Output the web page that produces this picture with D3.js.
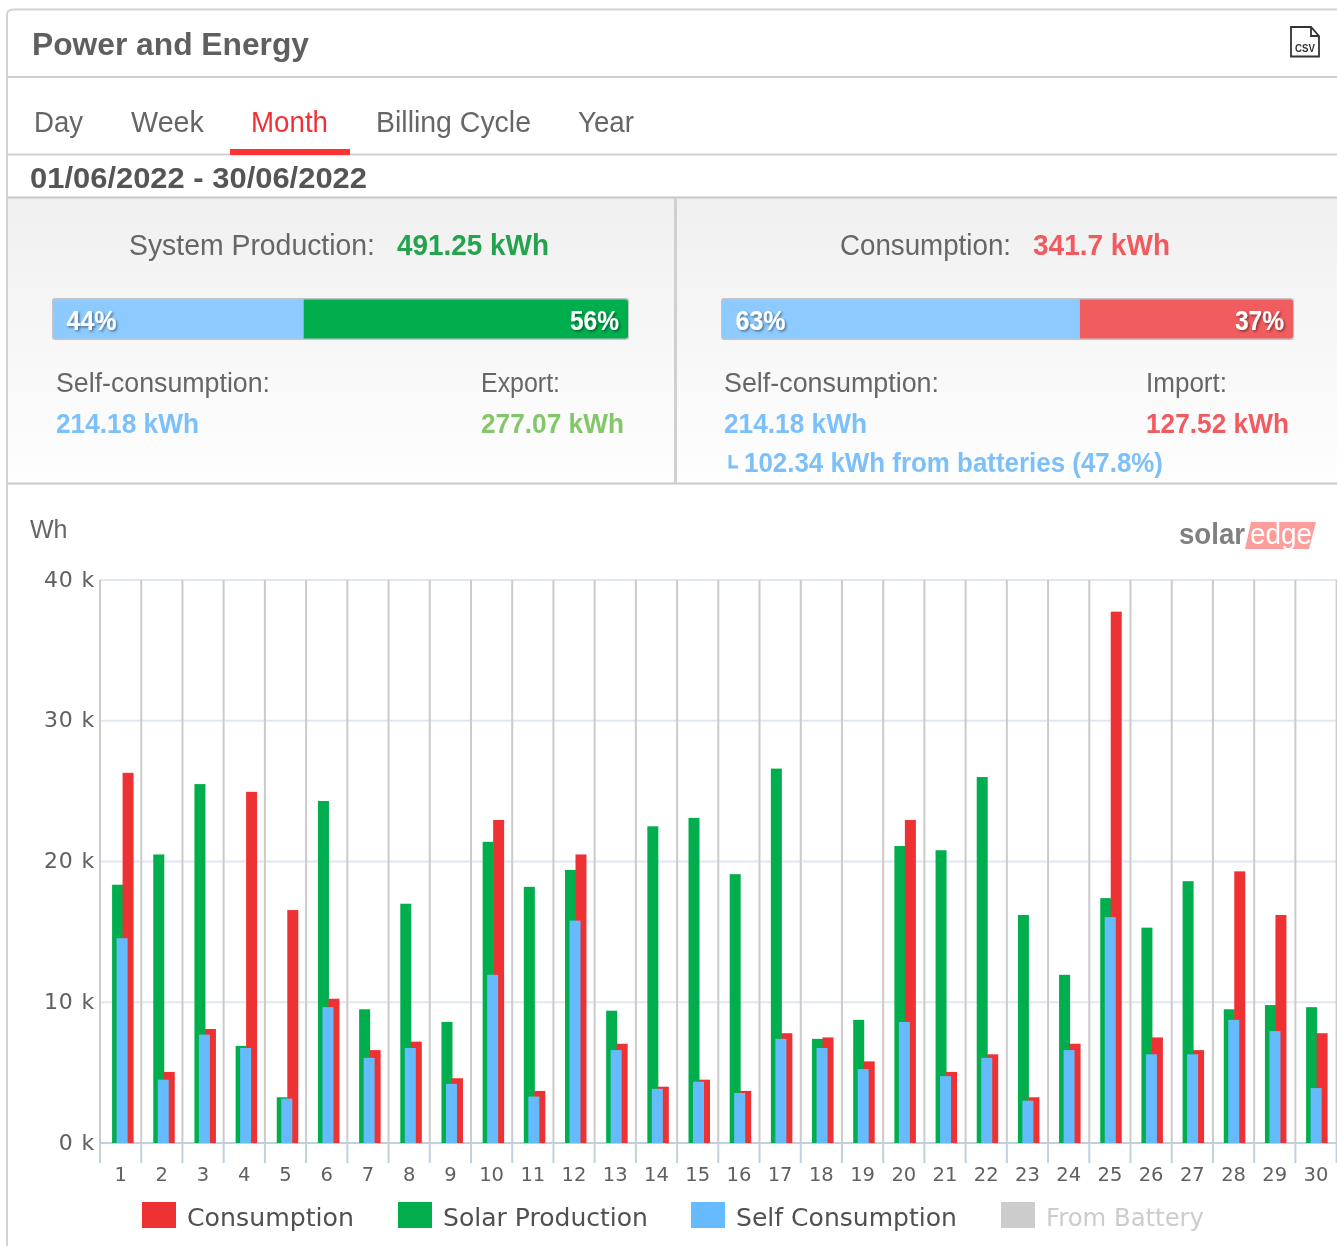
<!DOCTYPE html>
<html><head><meta charset="utf-8">
<script src="https://cdn.jsdelivr.net/npm/d3@7"></script>
<style>
html,body{margin:0;padding:0;background:#fff;overflow:hidden}
svg{display:block;filter:blur(0.6px)}
text{font-family:"Liberation Sans",Arial,sans-serif}
.chart text{font-family:"DejaVu Sans",sans-serif}
</style></head><body><div id="c"></div>
<script>
const days = d3.range(1,31).map(String);
const consumption = [26.3,5.05,8.1,24.95,16.55,10.25,6.6,7.2,4.6,22.95,3.7,20.5,7.05,4.0,4.5,3.7,7.8,7.5,5.8,22.95,5.05,6.3,3.25,7.05,37.75,7.5,6.6,19.3,16.2,7.8];
const solar = [18.35,20.5,25.5,6.9,3.25,24.3,9.5,17,8.6,21.4,18.2,19.4,9.4,22.5,23.1,19.1,26.6,7.4,8.75,21.1,20.8,26,16.2,11.95,17.4,15.3,18.6,9.5,9.8,9.65];
const selfCons = [14.55,4.5,7.7,6.75,3.15,9.65,6.05,6.75,4.2,11.95,3.3,15.8,6.6,3.85,4.35,3.55,7.4,6.75,5.25,8.6,4.75,6.05,3.0,6.6,16.05,6.3,6.3,8.75,7.95,3.9];
const yTicks = [0,10,20,30,40];
const tabs = ["Day","Week","Month","Billing Cycle","Year"];
const tabX = [34,131,251,376,578];
const tabW = [49,73,77,155,56];
const legendNames = ["Consumption","Solar Production","Self Consumption","From Battery"];
const legendColors = ["#ee3234","#00ae4d","#66bbff","#cccccc"];
const legendX = [142,398,691,1001];
const legendW = [167,205,221,158];
const prodTotals = [214.18,277.07];
const consTotals = [214.18,127.52];

const svg = d3.select("#c").append("svg").attr("width",1337).attr("height",1246);
const defs = svg.append("defs");
const g = defs.append("linearGradient").attr("id","pg").attr("x1",0).attr("x2",0).attr("y1",0).attr("y2",1);
g.append("stop").attr("offset",0).attr("stop-color","#f0f0f0");
g.append("stop").attr("offset",1).attr("stop-color","#fefefe");
const sh = defs.append("filter").attr("id","ts").attr("x","-20%").attr("y","-20%").attr("width","150%").attr("height","150%");
sh.append("feDropShadow").attr("dx",1.5).attr("dy",1.5).attr("stdDeviation",1.2).attr("flood-color","#000").attr("flood-opacity",.45);

const line=(x1,y1,x2,y2,c="#cfcfcf",w=2)=>svg.append("line").attr("x1",x1).attr("y1",y1).attr("x2",x2).attr("y2",y2).attr("stroke",c).attr("stroke-width",w);
const text=(s,x,y,size,fill,weight="normal",anchor="start",w=null)=>{
  const t=svg.append("text").text(s).attr("x",x).attr("y",y).attr("font-size",size).attr("fill",fill).attr("font-weight",weight).attr("text-anchor",anchor);
  if(w) t.attr("textLength",w).attr("lengthAdjust","spacingAndGlyphs");
  return t;
};

// card
svg.append("path").attr("d","M7,1246V15Q7,9.5 13,9.5H1337").attr("fill","none").attr("stroke","#d2d2d2").attr("stroke-width",2);
line(8,77,1337,77); line(8,154.5,1337,154.5);
svg.append("rect").attr("x",8).attr("y",198).attr("width",1329).attr("height",285).attr("fill","url(#pg)");
line(8,197.5,1337,197.5,"#c8c8c8"); line(8,483.5,1337,483.5,"#c8c8c8"); line(675.5,198,675.5,483,"#d0d0d0",3);

text("Power and Energy",32,54.5,31,"#5f5f5f","bold","start",277);
tabs.forEach((t,i)=>text(t,tabX[i],132,29,t==="Month"?"#f03034":"#666","normal","start",tabW[i]));
svg.append("rect").attr("x",230).attr("y",149).attr("width",120).attr("height",6).attr("fill","#ff3333");
text("01/06/2022 - 30/06/2022",30,188,30,"#555","bold","start",337);

// csv icon
svg.append("path").attr("d","M1291,27H1311L1319,36V56.5H1291Z M1311,27V36H1319").attr("fill","#fff").attr("stroke","#333").attr("stroke-width",1.8);
text("CSV",1305,52,11,"#333","bold","middle",20);

// panels
text("System Production:",129,255,29,"#666","normal","start",246);
text("491.25 kWh",397,255,29,"#24a24e","bold","start",152);
text("Consumption:",840,255,29,"#666","normal","start",171);
text("341.7 kWh",1033,255,29,"#f15a5e","bold","start",137);

function stack(x0,x1,vals,c2){
  const s=d3.scaleLinear().domain([0,d3.sum(vals)]).range([x0,x1]);
  svg.append("rect").attr("x",x0-1).attr("y",298).attr("width",x1-x0+2).attr("height",42).attr("rx",3).attr("fill","#c4c4c4");
  const clip="cl"+x0;
  defs.append("clipPath").attr("id",clip).append("rect").attr("x",x0).attr("y",299.5).attr("width",x1-x0).attr("height",39).attr("rx",3);
  svg.append("rect").attr("clip-path",`url(#${clip})`).attr("x",s(0)).attr("y",299).attr("width",s(vals[0])-s(0)).attr("height",40).attr("fill","#8dcaff");
  svg.append("rect").attr("clip-path",`url(#${clip})`).attr("x",s(vals[0])).attr("y",299).attr("width",s(vals[0]+vals[1])-s(vals[0])).attr("height",40).attr("fill",c2);
  text(Math.round(vals[0]/d3.sum(vals)*100)+"%",x0+13.5,330,27,"#fff","bold","start",50).attr("filter","url(#ts)");
  text(Math.round(vals[1]/d3.sum(vals)*100)+"%",x1-58,330,27,"#fff","bold","start",49).attr("filter","url(#ts)");
}
stack(53,628,prodTotals,"#00ae4d");
stack(722,1293,consTotals,"#f15c5e");

text("Self-consumption:",56,392,27.5,"#666","normal","start",214);
text("Export:",481,392,27.5,"#666","normal","start",79);
text("214.18 kWh",56,433,27.5,"#7cc0fb","bold","start",143);
text("277.07 kWh",481,433,27.5,"#84c66a","bold","start",143);
text("Self-consumption:",724,392,27.5,"#666","normal","start",215);
text("Import:",1146,392,27.5,"#666","normal","start",81);
text("214.18 kWh",724,433,27.5,"#7cc0fb","bold","start",143);
text("127.52 kWh",1146,433,27.5,"#f15a5e","bold","start",143);
svg.append("path").attr("d","M730,455V467H738").attr("fill","none").attr("stroke","#7cc0fb").attr("stroke-width",3);
text("102.34 kWh from batteries (47.8%)",744,472,27,"#7cc0fb","bold","start",419);

// logo
svg.append("path").attr("d","M1251,522H1316L1309,549H1245Z").attr("fill","#ff9d9d");
text("solar",1179,544,29,"#808080","bold","start",66);
text("edge",1250,544,29,"#fff","normal","start",62);

// chart
const chart = svg.append("g").attr("class","chart");
const x = d3.scaleBand().domain(days).range([100,1336.6]);
const xBar = d3.scaleBand().domain(days).range([100,1335.2]);
const y = d3.scaleLinear().domain([0,40]).range([1143,580]);

chart.selectAll("line.h").data(yTicks).join("line").attr("x1",100).attr("x2",1337)
  .attr("y1",d=>y(d)).attr("y2",d=>y(d)).attr("stroke",d=>d?"#dfe7f3":"#c0d0e0").attr("stroke-width",2);
const edges = days.map(d=>x(d)).concat([x.range()[1]]);
chart.selectAll("line.v").data(edges).join("line").attr("x1",d=>d).attr("x2",d=>d)
  .attr("y1",580).attr("y2",1143).attr("stroke","#cbcbcb").attr("stroke-width",2);
chart.selectAll("line.t").data(edges).join("line").attr("x1",d=>d).attr("x2",d=>d)
  .attr("y1",1143).attr("y2",1163).attr("stroke","#c0d0e0").attr("stroke-width",2);

const series = [[solar,"#00ae4d",-8.5],[consumption,"#ee3234",2],[selfCons,"#66bbff",-4]];
series.forEach(([vals,color,off])=>{
  chart.append("g").selectAll("rect").data(vals).join("rect")
    .attr("x",(d,i)=>xBar(days[i])+xBar.bandwidth()/2+off)
    .attr("width",11)
    .attr("y",d=>y(d))
    .attr("height",d=>y(0)-y(d))
    .attr("fill",color);
});
// y labels
chart.selectAll("text.y").data(yTicks).join("text").attr("x",95).attr("y",d=>y(d)+6.5)
  .attr("text-anchor","end").attr("font-size",22).attr("letter-spacing",0.8).attr("fill","#606060").text(d=>d+" k");
chart.selectAll("text.x").data(days).join("text").attr("x",d=>x(d)+x.bandwidth()/2).attr("y",1181)
  .attr("text-anchor","middle").attr("font-size",19.5).attr("fill","#606060").text(d=>d);
text("Wh",30,538,25,"#666");
// legend
legendNames.forEach((n,i)=>{
  const col = i===3?"#cccccc":"#505050";
  chart.append("rect").attr("x",legendX[i]).attr("y",1202).attr("width",34).attr("height",26).attr("fill",legendColors[i]);
  chart.append("text").attr("x",legendX[i]+45).attr("y",1226).attr("font-size",25).attr("fill",col)
    .attr("textLength",legendW[i]).attr("lengthAdjust","spacingAndGlyphs").text(n);
});
</script></body></html>
